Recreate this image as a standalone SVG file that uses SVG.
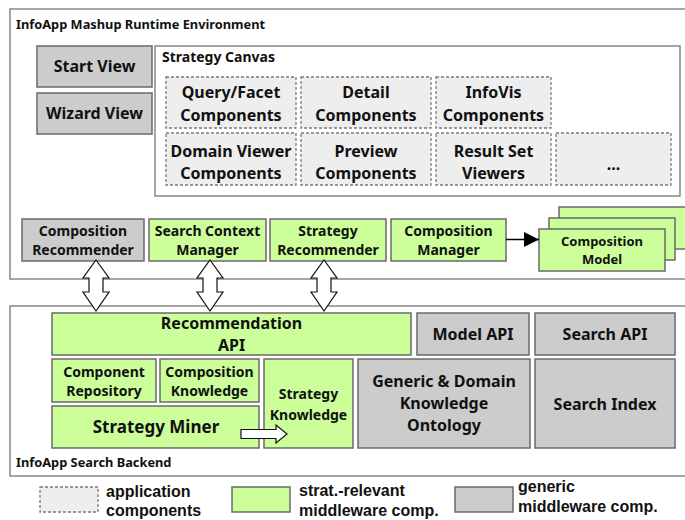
<svg xmlns="http://www.w3.org/2000/svg" width="685" height="520" viewBox="0 0 685 520">
<defs>
<style>
.frame{fill:#ffffff;stroke:#888888;stroke-width:1.5}
.g{fill:#ccff99;stroke:#6a6a6a;stroke-width:1.5}
.gr{fill:#cccccc;stroke:#6a6a6a;stroke-width:1.5}
.d{fill:#eeeeee;stroke:#7a7a7a;stroke-width:1.3;stroke-dasharray:3 2}
text{font-family:"Noto Sans","DejaVu Sans",sans-serif;font-weight:bold;fill:#111111}
.c{text-anchor:middle}
.s16{font-size:16px}
.s14{font-size:14px}
.s13{font-size:13px}
.ttl{font-size:12.8px}
.lg{font-family:"Liberation Sans",Arial,sans-serif;font-size:16px}
.wa{fill:#ffffff;stroke:#111111;stroke-width:1.2;stroke-linejoin:miter}
</style>
<marker id="ah" markerWidth="15" markerHeight="15" viewBox="0 0 15 15" refX="15" refY="7.5" orient="auto" markerUnits="userSpaceOnUse">
<path d="M0,0 L15,7.5 L0,15 Z" fill="#000000"/>
</marker>
</defs>

<g id="runtime-env">
<rect class="frame" x="10" y="9" width="690" height="270"/>
<text class="ttl" x="16" y="29">InfoApp Mashup Runtime Environment</text>
</g>
<g id="search-backend">
<rect class="frame" x="10" y="306" width="690" height="170"/>
<text class="ttl" x="16" y="467">InfoApp Search Backend</text>
</g>

<g id="start-view">
<rect class="gr" x="37" y="46" width="115" height="41"/>
<text class="c s16" x="94.5" y="72">Start View</text>
</g>
<g id="wizard-view">
<rect class="gr" x="37" y="93" width="115" height="41"/>
<text class="c s16" x="94.5" y="119">Wizard View</text>
</g>

<g id="strategy-canvas">
<rect class="frame" x="155" y="46" width="525" height="150"/>
<text class="s14" x="162" y="62">Strategy Canvas</text>
</g>
<g id="query-facet">
<rect class="d" x="166" y="77" width="130" height="51"/>
<text class="c s16" x="231" y="98">Query/Facet</text>
<text class="c s16" x="231" y="120.5">Components</text>
</g>
<g id="detail">
<rect class="d" x="301" y="77" width="130" height="51"/>
<text class="c s16" x="366" y="98">Detail</text>
<text class="c s16" x="366" y="120.5">Components</text>
</g>
<g id="infovis">
<rect class="d" x="436" y="77" width="115" height="51"/>
<text class="c s16" x="493.5" y="98">InfoVis</text>
<text class="c s16" x="493.5" y="120.5">Components</text>
</g>
<g id="domain-viewer">
<rect class="d" x="166" y="133" width="130" height="52"/>
<text class="c s16" x="231" y="156.5">Domain Viewer</text>
<text class="c s16" x="231" y="178.5">Components</text>
</g>
<g id="preview">
<rect class="d" x="301" y="133" width="130" height="52"/>
<text class="c s16" x="366" y="156.5">Preview</text>
<text class="c s16" x="366" y="178.5">Components</text>
</g>
<g id="result-set">
<rect class="d" x="436" y="133" width="115" height="52"/>
<text class="c s16" x="493.5" y="156.5">Result Set</text>
<text class="c s16" x="493.5" y="178.5">Viewers</text>
</g>
<g id="more">
<rect class="d" x="556" y="133" width="115" height="52"/>
<text class="c s16" x="613.5" y="170">...</text>
</g>

<g id="composition-recommender">
<rect class="gr" x="22" y="219" width="122" height="42"/>
<text class="c s14" x="83" y="236">Composition</text>
<text class="c s14" x="83" y="255">Recommender</text>
</g>
<g id="search-context-manager">
<rect class="g" x="149" y="219" width="117" height="42"/>
<text class="c s14" x="207.5" y="236">Search Context</text>
<text class="c s14" x="207.5" y="255">Manager</text>
</g>
<g id="strategy-recommender">
<rect class="g" x="270" y="219" width="116" height="42"/>
<text class="c s14" x="328" y="236">Strategy</text>
<text class="c s14" x="328" y="255">Recommender</text>
</g>
<g id="composition-manager">
<rect class="g" x="391" y="219" width="115" height="42"/>
<text class="c s14" x="448.5" y="236">Composition</text>
<text class="c s14" x="448.5" y="255">Manager</text>
</g>
<g id="composition-model">
<rect class="g" x="559" y="207" width="130" height="42"/>
<rect class="g" x="549" y="218" width="126" height="42"/>
<rect class="g" x="539" y="229" width="126" height="42"/>
<text class="c s13" x="602" y="246">Composition</text>
<text class="c s13" x="602" y="264">Model</text>
</g>

<g id="recommendation-api">
<rect class="g" x="52" y="313" width="359" height="42"/>
<text class="c s16" x="231.5" y="329">Recommendation</text>
<text class="c s16" x="231.5" y="351">API</text>
</g>
<g id="model-api">
<rect class="gr" x="417" y="313" width="112" height="42"/>
<text class="c s16" x="473" y="340">Model API</text>
</g>
<g id="search-api">
<rect class="gr" x="535" y="313" width="140" height="42"/>
<text class="c s16" x="605" y="340">Search API</text>
</g>
<g id="component-repository">
<rect class="g" x="52" y="359" width="104" height="43"/>
<text class="c s14" x="104" y="377">Component</text>
<text class="c s14" x="104" y="396">Repository</text>
</g>
<g id="composition-knowledge">
<rect class="g" x="160" y="359" width="99" height="43"/>
<text class="c s14" x="209.5" y="377">Composition</text>
<text class="c s14" x="209.5" y="396">Knowledge</text>
</g>
<g id="strategy-miner">
<rect class="g" x="52" y="406" width="207" height="42"/>
<text class="c" style="font-size:17px" x="156" y="433">Strategy Miner</text>
</g>
<g id="strategy-knowledge">
<rect class="g" x="264" y="359" width="89" height="89"/>
<text class="c s14" x="308.5" y="399">Strategy</text>
<text class="c s14" x="308.5" y="420">Knowledge</text>
</g>
<g id="ontology">
<rect class="gr" x="358" y="359" width="172" height="89"/>
<text class="c s16" x="444" y="387">Generic &amp; Domain</text>
<text class="c s16" x="444" y="409">Knowledge</text>
<text class="c s16" x="444" y="431">Ontology</text>
</g>
<g id="search-index">
<rect class="gr" x="535" y="359" width="140" height="89"/>
<text class="c s16" x="605" y="410">Search Index</text>
</g>

<g id="connectors">
<path class="wa" d="M96,260 L109,278 L103,278 L103,292 L109,292 L96,311 L83,292 L89,292 L89,278 L83,278 Z"/>
<path class="wa" d="M210,260 L223,278 L217,278 L217,292 L223,292 L210,311 L197,292 L203,292 L203,278 L197,278 Z"/>
<path class="wa" d="M324,260 L337,278 L331,278 L331,292 L337,292 L324,311 L311,292 L317,292 L317,278 L311,278 Z"/>
<line x1="506" y1="239.5" x2="539" y2="239.5" stroke="#000000" stroke-width="1.5" marker-end="url(#ah)"/>
<path class="wa" d="M241,429.5 L276,429.5 L276,425 L287,434 L276,443 L276,438.5 L241,438.5 Z"/>
</g>

<g id="legend">
<rect class="d" x="40" y="487" width="58" height="25"/>
<text class="lg" x="106" y="497">application</text>
<text class="lg" x="106" y="515.5">components</text>
<rect class="g" x="232" y="487" width="58" height="25"/>
<text class="lg" x="299" y="496">strat.-relevant</text>
<text class="lg" x="299" y="515.5">middleware comp.</text>
<rect class="gr" x="455" y="487" width="58" height="25"/>
<text class="lg" x="518" y="492">generic</text>
<text class="lg" x="518" y="512">middleware comp.</text>
</g>
</svg>
